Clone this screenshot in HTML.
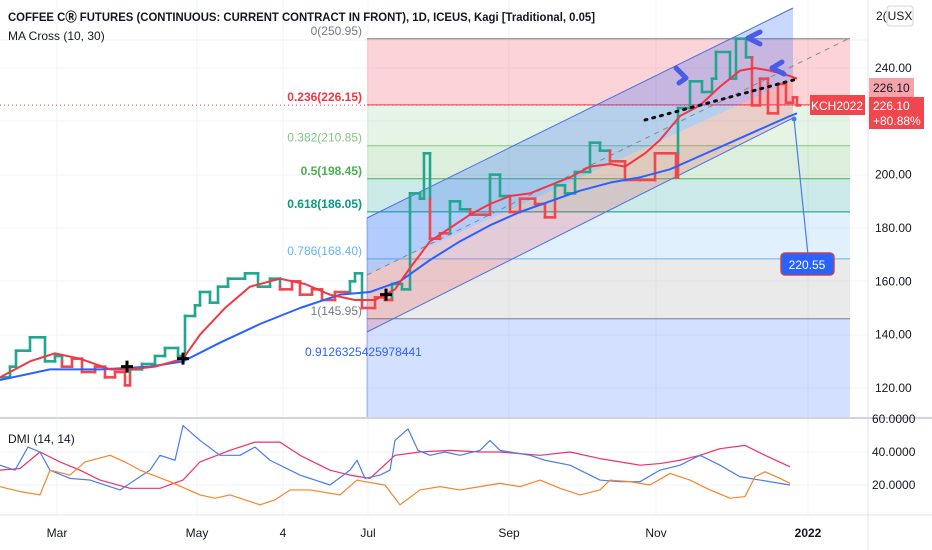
<!DOCTYPE html>
<html><head><meta charset="utf-8">
<style>
html,body{margin:0;padding:0;background:#fff;}
svg{display:block;font-family:"Liberation Sans",sans-serif;}
</style></head>
<body>
<svg id="chart" width="932" height="550" viewBox="0 0 932 550" xmlns="http://www.w3.org/2000/svg">
  <g id="grid"></g>
  <g id="fib"></g>
  <g id="channel"></g>
  <g id="series"></g>
  <g id="dmi"></g>
  <g id="annot"></g>
  <g id="axes"></g>
</svg>
<script>
// ---- data ----
const timeLabels = ["Mar","May","4","Jul","Sep","Nov","2022"];
const timeLabelDays = [28.5,98.5,141.5,184,254.5,328,404];
const priceTicks = [120,140,160,180,200,240];
const dmiTicks = [20,40,60];
const kagiDays = [0,5,8,15,22.5,27.5,31,36,41,47.5,52.5,57.5,62.5,65,71,77.5,82.5,89,92.5,97.5,100,105,109,114,122.5,129,135,140,146,150,156,161,167.5,175,177.5,181,187.5,192.5,196,201,205,210,212,215,220,225,230,235,245,250,255,260,267.5,272.5,277.5,282.5,287.5,295,300,305,312.5,320,327.5,338,339,345,351,356,358,365,368,373,376,380,384,389,393,396.5,398.5];
const kagiPrices = [124,128,134,139,130,132,128,131,126,128,124,126,121,127,129,132,135,132,147,151,156,152,158,161,163,158,161,157,160,155,157,153,156,160,163,150,154,153,159,157,193,191,208,176,178,190,187,185,200,192,186,191,189,184,196,193,201,212,209,205,198,198,208,199,225,235,231,236,246,236,251,244,226,236,223,234,227,229,226];
const maDays = [0,15,27.5,40,55,65,77.5,91.5,100,112.5,125,140,152.5,165,177.5,187.5,197.5,205,215,225,235,245,255,265,275,285,295,305,312.5,322.5,330,340,350,360,370,377.5,385,395,398.5];
const ma10 = [124,130,133,131,127,127,128,131,140,150,158,161,159,155,153,153,157,165,175,180,185,189,192,193,196,199,203,204,203,208,213,222,226,233,239,240,239,237,236];
const ma30Days = [0,25,50,75,91.5,110,130,150,170,185,200,215,230,245,260,275,290,305,320,335,350,365,380,395,398.5];
const ma30 = [123,127,127,128,130,137,144,150,155,156,160,168,175,181,186,190,194,197,199,202,207,212,217,222,223];
const dmiDays = [0,7.5,14,20,25,35,45,60,75,80,87.5,91.5,100,110,120,127.5,135,150,165,175,178.5,182.5,190,195,197.5,204,209,215,222.5,230,240,245,250,265,272.5,285,300,310,320,330,340,350,360,370,380,390,395];
const diPlus = [32,29,43,40,29,24,23,17,29,38,35,56,47,38,38,43,35,26,20,29,35,24,26,29,47,54,41,38,40,38,41,47,41,38,35,32,23,22,22,29,32,38,32,25,23,21,20];
const adxDays = [0,10,20,30,40,50,65,80,91.5,100,115,127.5,140,150,165,175,185,197.5,210,225,240,250,270,285,300,320,330,340,350,360,372.5,382.5,395];
const adx = [29,30,40,34,29,23,18,18,23,34,41,46,46,38,29,26,24,38,40,41,40,40,38,40,36,32,33,35,38,42,44,38,31];
const diMinusDays = [0,10,20,25,35,42.5,55,62.5,70,85,100,107.5,115,130,137.5,145,155,170,178.5,182.5,192.5,200,210,220,230,240,250,260,270,280,290,300,305,315,325,335,345,355,365,372.5,377.5,382.5,390,395];
const diMinus = [19,16,14,29,26,34,38,34,29,22,14,12,14,8,11,17,17,14,23,22,20,8,17,19,17,19,21,19,23,18,14,17,23,22,20,27,23,17,12,13,25,28,24,21];
const fibLevels = [250.95,226.15,210.85,198.45,186.05,168.40,145.95];
const fibNames = ["0(250.95)","0.236(226.15)","0.382(210.85)","0.5(198.45)","0.618(186.05)","0.786(168.40)","1(145.95)"];

// ---- scales ----
const X = d => d*2;
const Y = p => 68 + (240 - p) * 2.6667;
const YD = v => 485 - (v - 20) * 1.65;
const NS = "http://www.w3.org/2000/svg";
function el(parent, tag, attrs, text){
  const e = document.createElementNS(NS, tag);
  for (const k in attrs) e.setAttribute(k, attrs[k]);
  if (text !== undefined) e.textContent = text;
  document.getElementById(parent).appendChild(e);
  return e;
}
const GREEN = "#22a68f", RED = "#f0474f";

// grid
timeLabelDays.forEach((d,i)=>{
  const g = el("grid","line",{x1:X(d),x2:X(d),y1:0,y2:515,stroke:"#f0f3fa","stroke-width":1});
  
  
});
[40,68,121,175,228,281,335,388].forEach((y,i)=>{
  const g = el("grid","line",{x1:0,x2:868,y1:y,y2:y,stroke:"#f0f3fa","stroke-width":1});
  
  
});
[452,485].forEach((y,i)=>{
  const g = el("grid","line",{x1:0,x2:868,y1:y,y2:y,stroke:"#f0f3fa"});
  
  
});

// fib
const fx1 = 367, fx2 = 850;
const fills = ["rgba(242,54,69,0.22)","rgba(129,199,132,0.2)","rgba(76,175,80,0.2)","rgba(0,150,136,0.2)","rgba(100,181,246,0.2)","rgba(170,170,170,0.25)"];
const lineCols = ["#787b86","#f23645","#81c784","#4caf50","#089981","#64b5f6","#787b86"];
const labCols = ["#787b86","#f23645","#81c784","#4caf50","#089981","#64b5f6","#787b86"];
const labBold = [false,true,false,true,true,false,false];
for (let i=0;i<fibLevels.length-1;i++){
  const r = el("fib","rect",{x:fx1,y:Y(fibLevels[i]),width:fx2-fx1,height:Y(fibLevels[i+1])-Y(fibLevels[i]),fill:fills[i]});
  
  
}
{
  const r = el("fib","rect",{x:fx1,y:Y(fibLevels[6]),width:fx2-fx1,height:418-Y(fibLevels[6]),fill:"rgba(41,98,255,0.2)"});
  
  
}
fibLevels.forEach((v,i)=>{
  const l = el("fib","line",{x1:fx1,x2:fx2,y1:Y(v),y2:Y(v),stroke:lineCols[i],"stroke-width":1});
  
  
  const t = el("fib","text",{x:362,y:Y(v)-4,"text-anchor":"end","font-size":12,fill:labCols[i],"font-weight":labBold[i]?"bold":"normal"},fibNames[i]);
  
  
});
{
  const t = el("fib","text",{x:305,y:356,"font-size":12,fill:"#2962ff"},"0.9126325425978441");
  
  
}
{
  const l = el("fib","line",{x1:0,x2:810,y1:Y(226.1),y2:Y(226.1),stroke:"#f23645","stroke-dasharray":"1 3","stroke-width":1});
  
  
}

// channel
{
  const up = el("channel","polygon",{points:"367,218 793,8 793,80 367,275",fill:"rgba(41,98,255,0.25)"});
  
  
  const lo = el("channel","polygon",{points:"367,275 793,80 793,118 367,332",fill:"rgba(242,54,69,0.2)"});
  
  
  const a = el("channel","line",{x1:367,y1:218,x2:793,y2:8,stroke:"#4a6ee8","stroke-width":1});
  
  
  const b = el("channel","line",{x1:367,y1:332,x2:793,y2:118,stroke:"#4a6ee8","stroke-width":1});
  
  
  const c = el("channel","line",{x1:367,y1:275,x2:850,y2:38,stroke:"#888","stroke-width":1,"stroke-dasharray":"5 5"});
  
  
  const v = el("channel","line",{x1:367,y1:218,x2:367,y2:418,stroke:"#4a6ee8","stroke-width":0.5});
  
  
}

// kagi
function seg(x1,y1,x2,y2,c){
  const l = el("series","line",{x1:x1,y1:y1,x2:x2,y2:y2,stroke:c,"stroke-width":2.6,"stroke-linecap":"square"});
  
  
}
(function(){
  let green = true, shoulder = kagiPrices[0], waist = kagiPrices[0];
  for (let i=1;i<kagiPrices.length;i++){
    const a = kagiPrices[i-1], b = kagiPrices[i], x = X(kagiDays[i]);
    seg(X(kagiDays[i-1]),Y(a),x,Y(a),green?GREEN:RED);
    if (b>a){
      if (!green && b>shoulder){ seg(x,Y(a),x,Y(shoulder),RED); seg(x,Y(shoulder),x,Y(b),GREEN); green=true; }
      else seg(x,Y(a),x,Y(b),green?GREEN:RED);
      shoulder = b;
    } else {
      if (green && b<waist){ seg(x,Y(a),x,Y(waist),GREEN); seg(x,Y(waist),x,Y(b),RED); green=false; }
      else seg(x,Y(a),x,Y(b),green?GREEN:RED);
      waist = b;
    }
  }
  const last = kagiPrices.length-1;
  seg(X(kagiDays[last]),Y(kagiPrices[last]),X(kagiDays[last])+3,Y(kagiPrices[last]),green?GREEN:RED);
})();

function poly(parent, days, vals, yf, color, w, name){
  const pts = days.map((d,i)=>X(d)+","+yf(vals[i])).join(" ");
  const p = el(parent,"polyline",{points:pts,fill:"none",stroke:color,"stroke-width":w,"stroke-linejoin":"round"});
  
  
}
poly("series", ma30Days, ma30, Y, "#2962ff", 2, "ma-30-line");
poly("series", maDays, ma10, Y, "#f23645", 2, "ma-10-line");

[[63.5,128],[91.5,131],[193,155]].forEach((c,i)=>{
  const x=X(c[0]), y=Y(c[1]);
  const p = el("series","path",{d:`M${x-6},${y}H${x+6}M${x},${y-6}V${y+6}`,stroke:"#000","stroke-width":3});
  
  
});

// DMI
poly("dmi", adxDays, adx, YD, "#f0306a", 1.2, "adx-line");
poly("dmi", dmiDays, diPlus, YD, "#4a7cf0", 1.2, "di-plus-line");
poly("dmi", diMinusDays, diMinus, YD, "#f5862a", 1.2, "di-minus-line");
{
  const t = el("dmi","text",{x:8,y:443,"font-size":12,fill:"#131722"},"DMI (14, 14)");
  
  
}

// annotations
{
  const d = el("annot","line",{x1:645,y1:120,x2:797,y2:79,stroke:"#111","stroke-width":3,"stroke-dasharray":"2 6","stroke-linecap":"round"});
  
  
  const arrows = ["M676,68 L686,78 L679,83","M760,32 L748,38 L760,44","M782,62 L772,68 L784,74"];
  arrows.forEach((a,i)=>{
    const p = el("annot","path",{d:a,fill:"none",stroke:"#4a5be8","stroke-width":5,"stroke-linejoin":"round","stroke-linecap":"round"});
    
    
  });
  const pl = el("annot","line",{x1:794,y1:119,x2:808,y2:255,stroke:"#4a7ce8","stroke-width":1.2});
  
  
  const dot = el("annot","circle",{cx:794,cy:119,r:2.5,fill:"#4a7ce8"});
  
  
  const br = el("annot","rect",{x:781,y:253,width:53,height:22,rx:4,fill:"#2962ff",stroke:"#c2455a","stroke-width":1.5});
  
  
  const bt = el("annot","text",{x:807,y:269,"text-anchor":"middle","font-size":12,fill:"#fff"},"220.55");
  
  
  const kr = el("annot","rect",{x:810,y:95,width:55,height:20,fill:"#f0474f"});
  
  
  const kt = el("annot","text",{x:837,y:110,"text-anchor":"middle","font-size":12,fill:"#fff"},"KCH2022");
  
  
}

// axes
{
  const a1 = el("axes","line",{x1:868,x2:868,y1:0,y2:550,stroke:"#e0e3eb"});
  
  
  const a2 = el("axes","line",{x1:0,x2:932,y1:418,y2:418,stroke:"#d1d4dc","stroke-width":2});
  
  
  const a3 = el("axes","line",{x1:0,x2:932,y1:515,y2:515,stroke:"#e0e3eb"});
  
  
}
priceTicks.forEach(p=>{
  const t = el("axes","text",{x:875,y:Y(p)+4,"font-size":12,fill:"#131722"},p.toFixed(2));
  
  
});
dmiTicks.forEach(v=>{
  const t = el("axes","text",{x:872,y:YD(v)+4,"font-size":12,fill:"#131722"},v.toFixed(4));
  
  
});
timeLabels.forEach((s,i)=>{
  const t = el("axes","text",{x:X(timeLabelDays[i]),y:537,"text-anchor":"middle","font-size":12,fill:"#131722","font-weight":s==="2022"?"bold":"normal"},s);
  
  
});
{
  const r1 = el("axes","rect",{x:869,y:78,width:45,height:19,fill:"#f5a3aa"});
  
  
  const t1 = el("axes","text",{x:873,y:92,"font-size":12,fill:"#131722"},"226.10");
  
  
  const r2 = el("axes","rect",{x:869,y:97,width:55,height:32,fill:"#f0474f"});
  
  
  const t2 = el("axes","text",{x:873,y:110,"font-size":12,fill:"#fff"},"226.10");
  
  
  const t3 = el("axes","text",{x:873,y:125,"font-size":12,fill:"#fff"},"+80.88%");
  
  
  const t4 = el("axes","text",{x:876,y:20,"font-size":12,fill:"#131722"},"2(");
  
  
  const ub = el("axes","rect",{x:887,y:6,width:26,height:20,rx:3,fill:"#fff",stroke:"#d1d4dc"});
  
  
  const ut = el("axes","text",{x:900,y:20,"text-anchor":"middle","font-size":12,fill:"#131722"},"USX");
  
  
  const tt = el("axes","text",{x:8,y:21,"font-size":12,fill:"#131722","font-weight":"bold",textLength:587,lengthAdjust:"spacingAndGlyphs"},"COFFEE C\u24C7 FUTURES (CONTINUOUS: CURRENT CONTRACT IN FRONT), 1D, ICEUS, Kagi [Traditional, 0.05]");
  
  
  const ma = el("axes","text",{x:8,y:40,"font-size":12,fill:"#131722"},"MA Cross (10, 30)");
  
  
}
</script>
</body></html>
